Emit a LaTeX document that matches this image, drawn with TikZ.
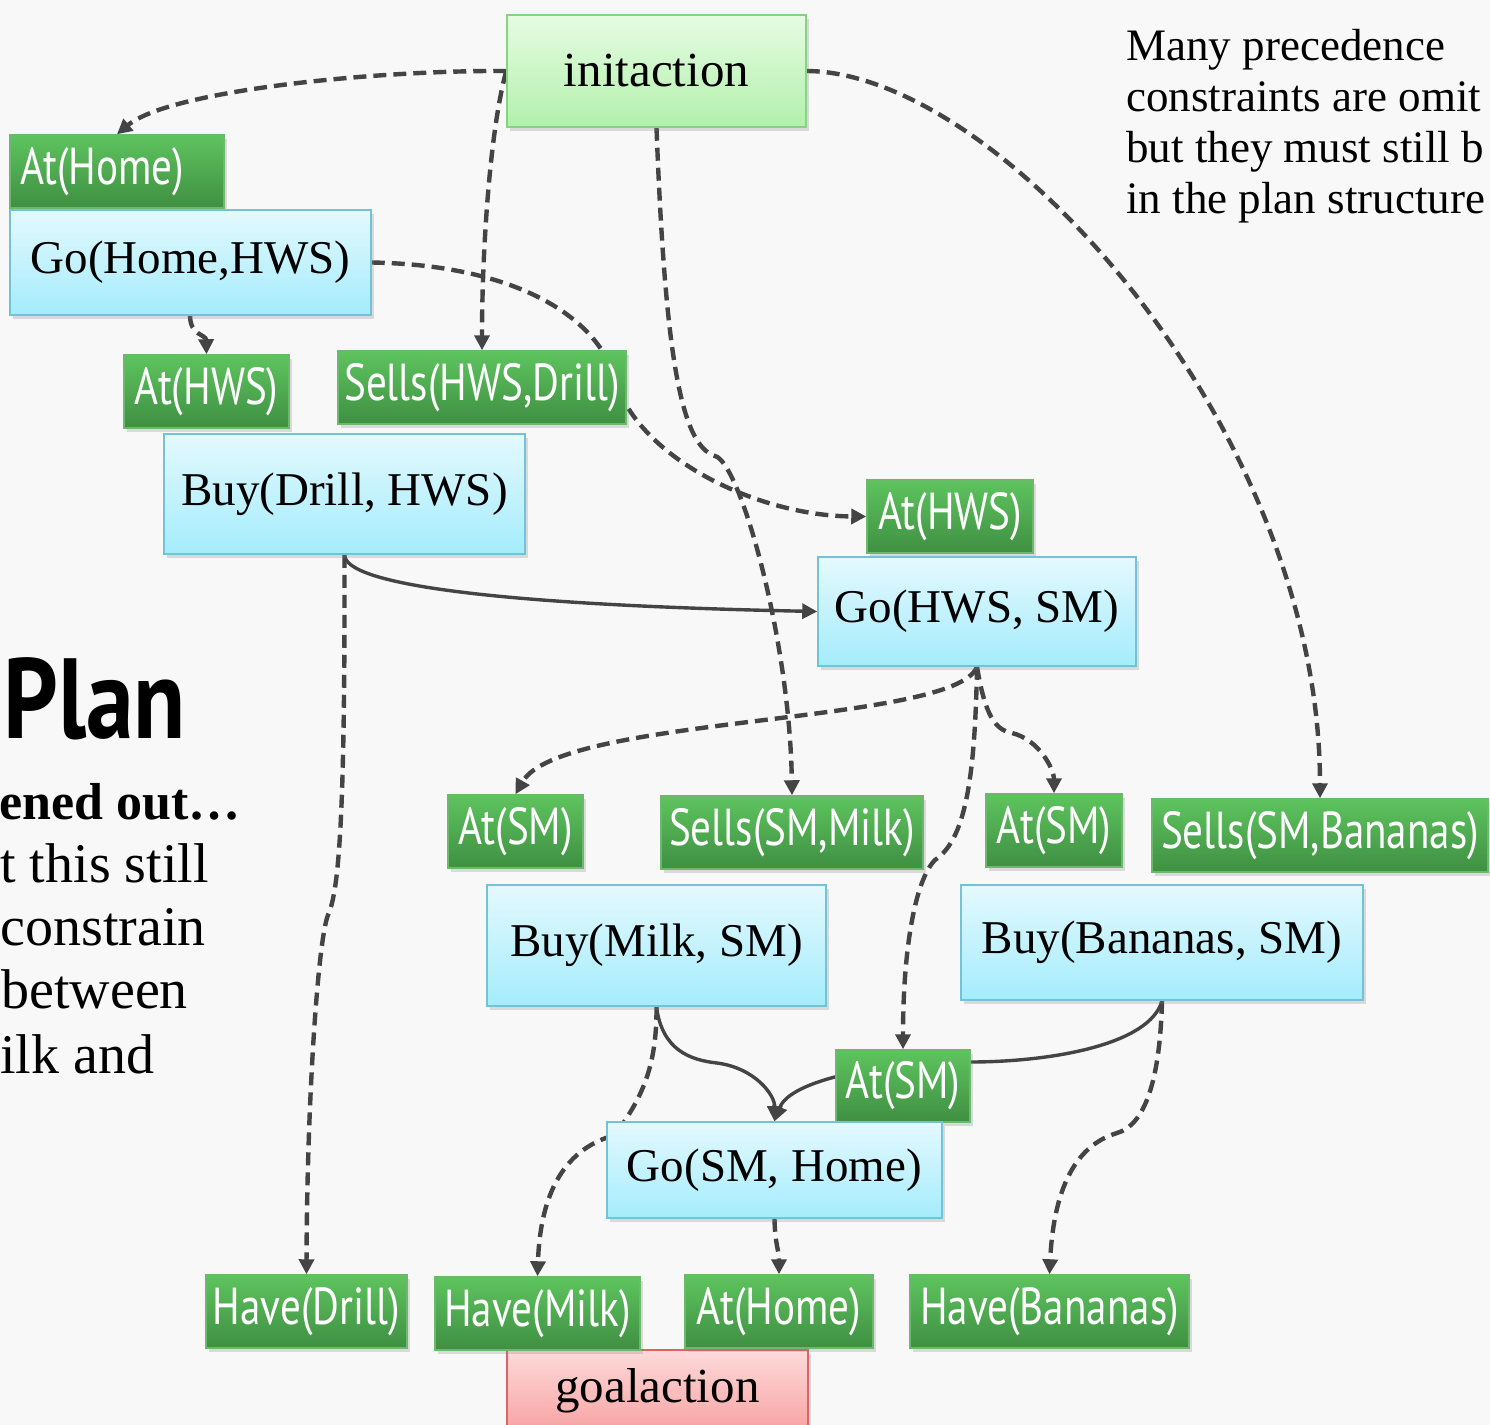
\documentclass[tikz,border=0pt]{standalone}
\usepackage{fontspec}
\setmainfont{Liberation Serif}
\newfontfamily\condsans{PT Sans}[FakeStretch=0.79]
\newfontfamily\titlesans{PT Sans}[FakeStretch=0.84]
\usetikzlibrary{arrows.meta,shadows}
\pgfdeclarelayer{back}
\pgfsetlayers{back,main}

\definecolor{paper}{HTML}{F8F8F8}
\definecolor{gtop}{HTML}{5EC45E}
\definecolor{gbot}{HTML}{3F8F42}
\definecolor{gline}{HTML}{6CB86C}
\definecolor{btop}{HTML}{E4F9FE}
\definecolor{bbot}{HTML}{A4ECFC}
\definecolor{bline}{HTML}{72C2D8}
\definecolor{itop}{HTML}{E6FCE2}
\definecolor{ibot}{HTML}{B2F0AC}
\definecolor{iline}{HTML}{86D482}
\definecolor{ptop}{HTML}{FDDADA}
\definecolor{pbot}{HTML}{F8A2A2}
\definecolor{pline}{HTML}{DC6464}
\definecolor{wire}{HTML}{444444}

\begin{document}
\begin{tikzpicture}[
  x=0.5pt, y=-0.5pt,
  box/.style={draw, line width=0.75pt, inner sep=0pt,
    drop shadow={shadow xshift=1.5pt, shadow yshift=-2pt, opacity=0.25}},
  cond/.style={box, draw=gline, top color=gtop, bottom color=gbot, text=white,
    minimum height=36.5pt, font=\condsans\fontsize{26}{28}\selectfont},
  act/.style={box, draw=bline, top color=btop, bottom color=bbot,
    font=\fontsize{23.5}{26}\selectfont},
  startbox/.style={box, draw=iline, top color=itop, bottom color=ibot,
    font=\fontsize{24.5}{28}\selectfont},
  endbox/.style={box, draw=pline, top color=ptop, bottom color=pbot,
    font=\fontsize{24.5}{28}\selectfont},
  note/.style={anchor=base west, inner sep=0pt, font=\fontsize{22.5}{25}\selectfont},
  side/.style={anchor=base west, inner sep=0pt, font=\fontsize{28}{31}\selectfont},
  link/.style={draw=wire, line width=2.2pt, dash pattern=on 6.5pt off 3.5pt,
    -{Triangle[length=7.5pt,width=7.5pt]}},
  order/.style={draw=wire, line width=1.7pt, -{Triangle[length=7.5pt,width=7.5pt]}}
]
\useasboundingbox (0,0) rectangle (1490,1425);
\begin{pgfonlayer}{back}
  \fill[paper] (0,0) rectangle (1490,1425);
\end{pgfonlayer}
\clip (0,0) rectangle (1490,1425);

% side text
\node[anchor=base west, inner sep=0pt, font=\titlesans\bfseries\fontsize{57}{60}\selectfont] (title) at (3,738) {Plan};
\node[side, font=\bfseries\fontsize{26}{31}\selectfont] (s1) at (-1,819) {ened out…};
\node[side] (s2) at (0,882) {t this still};
\node[side] (s3) at (0,945) {constrain};
\node[side] (s4) at (1,1008) {between};
\node[side] (s5) at (0,1073) {ilk and};

\node[note] (n1) at (1126,60) {Many precedence};
\node[note] (n2) at (1126,111) {constraints are omit};
\node[note] (n3) at (1126,162) {but they must still b};
\node[note] (n4) at (1126,213) {in the plan structure};

% start and goal
\node[startbox, minimum width=149.5pt, minimum height=56pt] (init) at (656.5,71) {initaction};
\node[endbox, minimum width=150.5pt, minimum height=41pt] (goal) at (657.5,1391) {goalaction};

% drill branch
\node[cond, minimum width=107pt, text width=97pt, inner xsep=5pt, align=left] (athomeA) at (117,171.5) {At(Home)};
\node[act, minimum width=180.5pt, minimum height=52.5pt] (gohomehws) at (190.5,262.5) {Go(Home,HWS)};
\node[cond, minimum width=82.5pt] (athwsA) at (206.5,391.5) {At(HWS)};
\node[cond, minimum width=144pt] (sellsdrill) at (482,387.5) {Sells(HWS,Drill)};
\node[act, minimum width=180.5pt, minimum height=60pt] (buydrill) at (344.5,494) {Buy(Drill, HWS)};

% move to the supermarket
\node[cond, minimum width=83pt] (athwsB) at (950,516.5) {At(HWS)};
\node[act, minimum width=159pt, minimum height=54.5pt] (gohwssm) at (977,611.5) {Go(HWS, SM)};

% supermarket purchases
\node[cond, minimum width=67.5pt] (atsmA) at (515.5,831.5) {At(SM)};
\node[cond, minimum width=131pt] (sellsmilk) at (792,832.5) {Sells(SM,Milk)};
\node[cond, minimum width=68pt] (atsmB) at (1054,830.5) {At(SM)};
\node[cond, minimum width=168pt] (sellsban) at (1320,835.5) {Sells(SM,Bananas)};
\node[act, minimum width=169.5pt, minimum height=60.5pt] (buymilk) at (656.5,945.5) {Buy(Milk, SM)};
\node[act, minimum width=201pt, minimum height=57.5pt] (buyban) at (1162,942.5) {Buy(Bananas, SM)};

% return home
\node[cond, minimum width=67pt, minimum height=36pt] (atsmC) at (903,1086) {At(SM)};
\node[act, minimum width=167.5pt, minimum height=48pt] (gosmhome) at (774.5,1170) {Go(SM, Home)};

% goal conditions
\node[cond, minimum width=100.5pt] (havedrill) at (306.5,1311.5) {Have(Drill)};
\node[cond, minimum width=102.5pt] (havemilk) at (537.5,1313.5) {Have(Milk)};
\node[cond, minimum width=94pt] (athomeB) at (779,1311.5) {At(Home)};
\node[cond, minimum width=139.5pt] (haveban) at (1049.5,1311.5) {Have(Bananas)};

\begin{pgfonlayer}{back}
  % causal links
  \draw[link] (init.west) .. controls (380,70) and (170,90) .. (athomeA.north);
  \draw[link] (init.west) .. controls (490,130) and (482,250) .. (sellsdrill.north);
  \draw[link] (init.south) .. controls (665,350) and (680,445) .. (715,456)
                           .. controls (740,462) and (790,640) .. (sellsmilk.north);
  \draw[link] (init.east) .. controls (1000,72) and (1320,430) .. (sellsban.north);
  \draw[link] (190,315) .. controls (190,336) and (206,334) .. (athwsA.north);
  \draw[link] (gohomehws.east) .. controls (520,265) and (600,320) .. (615,380)
                               .. controls (640,460) and (760,516) .. (athwsB.west);
  \draw[link] (buydrill.south) .. controls (345,800) and (340,890) .. (328,915)
                               .. controls (318,940) and (307,1100) .. (havedrill.north);
  \draw[link] (gohwssm.south) .. controls (955,725) and (560,715) .. (atsmA.north);
  \draw[link] (gohwssm.south) .. controls (985,715) and (995,730) .. (1012,733)
                              .. controls (1040,740) and (1054,770) .. (atsmB.north);
  \draw[link] (gohwssm.south) .. controls (975,780) and (965,840) .. (935,860)
                              .. controls (915,880) and (903,950) .. (atsmC.north);
  \draw[link] (buymilk.south) .. controls (657,1070) and (640,1100) .. (615,1135)
                              .. controls (560,1150) and (540,1200) .. (havemilk.north);
  \draw[link] (buyban.south) .. controls (1160,1080) and (1145,1125) .. (1117,1133)
                             .. controls (1095,1140) and (1055,1160) .. (haveban.north);
  \draw[link] (gosmhome.south) .. controls (775,1245) and (779,1250) .. (athomeB.north);
  % ordering constraints
  \draw[order] (buydrill.south) .. controls (345,585) and (500,605) .. (gohwssm.west);
  \draw[order] (buymilk.south) .. controls (662,1050) and (690,1060) .. (717,1063)
                               .. controls (755,1068) and (775,1095) .. (gosmhome.north);
  \draw[order] (buyban.south) .. controls (1150,1045) and (1050,1062) .. (970,1062)
                              .. controls (880,1062) and (790,1080) .. (gosmhome.north);
\end{pgfonlayer}
\end{tikzpicture}
\end{document}
